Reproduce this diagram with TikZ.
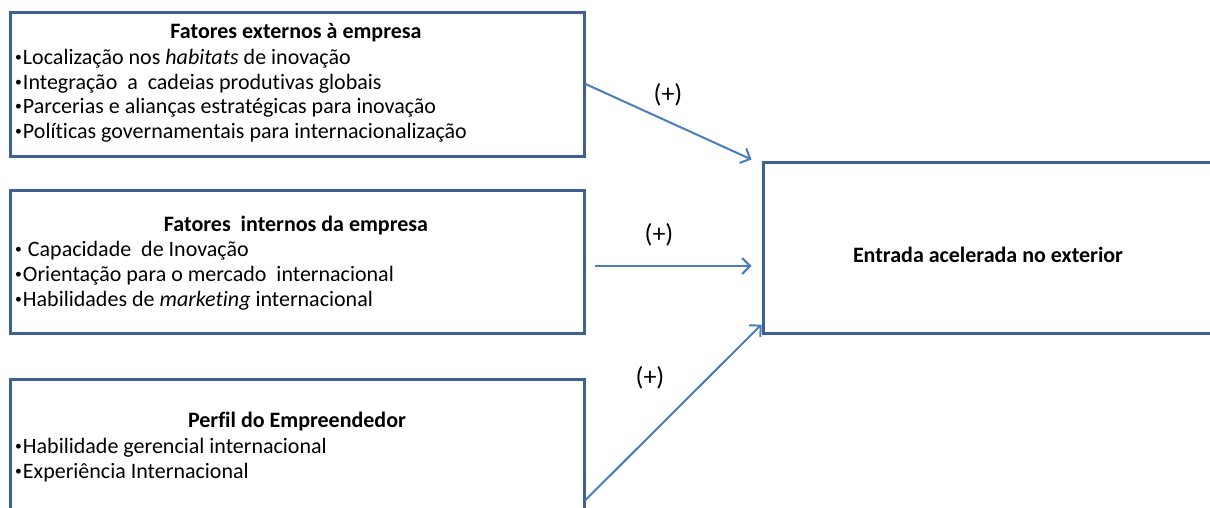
\documentclass[tikz,border=0pt]{standalone}
\usepackage{fontspec}
\setmainfont{Carlito}[Ligatures=NoCommon]
\usetikzlibrary{arrows.meta,calc}
\definecolor{boxline}{HTML}{3F6191}
\definecolor{arrowline}{HTML}{4A7EBB}
% small list bullet
\newcommand\itemdot{\makebox[0.4em][l]{\hspace{0.04em}\raisebox{0.12em}{\scalebox{0.62}{•}}}}
\begin{document}
\begin{tikzpicture}[x=1pt,y=-1pt,
  panel/.style={draw=boxline,line width=3pt,inner sep=0pt},
  head/.style={font=\bfseries\fontsize{22}{26}\selectfont,anchor=base,inner sep=0pt},
  item/.style={font=\fontsize{22}{26}\selectfont,anchor=base west,inner sep=0pt},
  flow/.style={draw=arrowline,line width=2pt,-{Straight Barb[length=8pt,width=16pt]}},
  sign/.style={font=\fontsize{26}{30}\selectfont,inner sep=0pt}]
\useasboundingbox (0,0) rectangle (1210,507);
\clip (0,0) rectangle (1210,507);

% the three groups of factors
\node[panel,minimum width=574pt,minimum height=144pt] (ext) at (297,84.5) {};
\node[panel,minimum width=574pt,minimum height=143pt] (int) at (297,261.5) {};
\node[panel,minimum width=574pt,minimum height=145pt] (emp) at (297,451.5) {};

% the outcome
\node[panel,minimum width=477pt,minimum height=171pt] (goal) at (1001.5,247.5) {};

% texts of the external factors
\node[head] (extT) at (296,38) {Fatores externos à empresa};
\node[item] (ext1) at (14,64) {\itemdot Localização nos \textit{habitats} de inovação};
\node[item] (ext2) at (14,89) {\itemdot Integração\ \ a\ \ cadeias produtivas globais};
\node[item] (ext3) at (14,113) {\itemdot Parcerias e alianças estratégicas para inovação};
\node[item] (ext4) at (14,138) {\itemdot Políticas governamentais para internacionalização};

% texts of the internal factors
\node[head] (intT) at (296,231) {Fatores\ \ internos da empresa};
\node[item] (int1) at (14,256) {\itemdot\ Capacidade\ \ de Inovação};
\node[item] (int2) at (14,281) {\itemdot Orientação para o mercado\ \ internacional};
\node[item] (int3) at (14,306) {\itemdot Habilidades de \textit{marketing} internacional};

% texts of the entrepreneur profile
\node[head] (empT) at (297,427) {Perfil do Empreendedor};
\node[item] (emp1) at (14,453) {\itemdot Habilidade gerencial internacional};
\node[item] (emp2) at (14,478) {\itemdot Experiência Internacional};

\node[head] (goalT) at (988,262) {Entrada acelerada no exterior};

% positive effects
\draw[flow] (ext.east |- 0,84) -- ($(goal.north west)+(-10,-1)$);
\draw[flow] ($(int.east)+(9,4.5)$) -- ($(goal.west)+(-10,18.5)$);
\draw[flow] (emp.east |- 0,500) -- ($(goal.south west)+(0,-10)$);

\node[sign] (s1) at (668,95) {(+)};
\node[sign] (s2) at (659,235) {(+)};
\node[sign] (s3) at (650,378) {(+)};
\end{tikzpicture}
\end{document}
